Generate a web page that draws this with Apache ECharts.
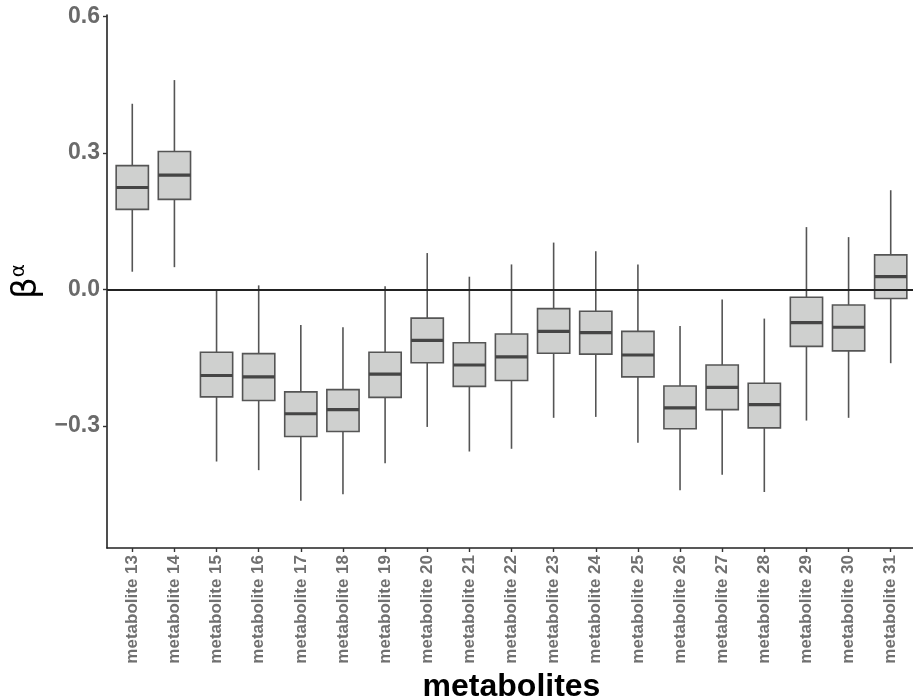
<!DOCTYPE html>
<html>
<head>
<meta charset="utf-8">
<script src="https://cdn.jsdelivr.net/npm/echarts@6/dist/echarts.min.js"></script>
<style>
  html, body { margin: 0; padding: 0; background: #fff; }
  #chart { width: 913px; height: 699px; }
</style>
</head>
<body>
<div id="chart"></div>
<script>
// metabolite ids along the x axis
var categories = ['13', '14', '15', '16', '17', '18', '19', '20', '21', '22',
                  '23', '24', '25', '26', '27', '28', '29', '30', '31'];

// box statistics
var lowWhisker = [0.039, 0.049, -0.378, -0.397, -0.464, -0.450, -0.382, -0.302, -0.356, -0.350,
                  -0.282, -0.280, -0.337, -0.441, -0.407, -0.445, -0.288, -0.282, -0.162];
var q1 = [0.176, 0.198, -0.236, -0.244, -0.323, -0.312, -0.237, -0.161, -0.213, -0.200,
          -0.140, -0.142, -0.192, -0.306, -0.264, -0.304, -0.125, -0.135, -0.020];
var median = [0.224, 0.251, -0.189, -0.192, -0.273, -0.264, -0.186, -0.112, -0.166, -0.148,
              -0.092, -0.095, -0.144, -0.260, -0.215, -0.253, -0.073, -0.083, 0.028];
var q3 = [0.272, 0.303, -0.138, -0.141, -0.225, -0.220, -0.138, -0.063, -0.117, -0.098,
          -0.042, -0.048, -0.092, -0.212, -0.166, -0.206, -0.017, -0.034, 0.076];
var highWhisker = [0.408, 0.460, -0.003, 0.009, -0.078, -0.083, 0.007, 0.080, 0.028, 0.055,
                   0.103, 0.084, 0.055, -0.080, -0.022, -0.064, 0.137, 0.115, 0.218];

var yTicks = [-0.3, 0.0, 0.3, 0.6];

var boxData = [];
var xTicks = [];
for (var i = 0; i < categories.length; i++) {
    boxData.push([i, lowWhisker[i], q1[i], median[i], q3[i], highWhisker[i]]);
    xTicks.push(i);
}

var boxLine = '#555555';
var boxFill = '#cfd0cf';

function renderBox(params, api) {
    var x = api.value(0);
    var pLow = api.coord([x, api.value(1)]);
    var pQ1 = api.coord([x, api.value(2)]);
    var pMed = api.coord([x, api.value(3)]);
    var pQ3 = api.coord([x, api.value(4)]);
    var pHigh = api.coord([x, api.value(5)]);
    var w = api.size([1, 0])[0] * 0.765;
    var cx = pMed[0];
    return {
        type: 'group',
        children: [
            {
                type: 'line',
                shape: { x1: cx, y1: pHigh[1], x2: cx, y2: pLow[1] },
                style: { stroke: boxLine, lineWidth: 1.6 }
            },
            {
                type: 'rect',
                shape: { x: cx - w / 2, y: pQ3[1], width: w, height: pQ1[1] - pQ3[1] },
                style: { fill: boxFill, stroke: boxLine, lineWidth: 1.6 }
            },
            {
                type: 'line',
                shape: { x1: cx - w / 2, y1: pMed[1], x2: cx + w / 2, y2: pMed[1] },
                style: { stroke: '#454545', lineWidth: 3.2 }
            }
        ]
    };
}

var chart = echarts.init(document.getElementById('chart'));

var option = {
    animation: false,
    backgroundColor: '#ffffff',
    grid: { left: 107, right: -3, top: 15, bottom: 151, containLabel: false, outerBoundsMode: 'none' },
    xAxis: {
        type: 'value',
        min: -0.6,
        max: 18.6,
        name: 'metabolites',
        nameLocation: 'middle',
        nameGap: 116,
        nameTextStyle: {
            fontFamily: 'Liberation Sans, Arial, sans-serif',
            fontWeight: 'bold', fontSize: 32, color: '#000'
        },
        axisLine: { onZero: false, lineStyle: { color: '#222', width: 1.6 } },
        axisTick: { customValues: xTicks, length: 4, lineStyle: { color: '#333', width: 1.4 } },
        axisLabel: {
            customValues: xTicks,
            rotate: 90,
            margin: 7,
            fontFamily: 'Liberation Sans, Arial, sans-serif',
            fontWeight: 'bold',
            fontSize: 17,
            color: '#707070',
            formatter: function (v) {
                return 'metabolite ' + categories[Math.round(v)];
            }
        },
        splitLine: { show: false }
    },
    yAxis: {
        type: 'value',
        min: -0.568,
        max: 0.603,
        name: '{b|β}{a|α}',
        nameLocation: 'middle',
        nameRotate: 90,
        nameGap: 60,
        nameTextStyle: {
            rich: {
                b: { fontSize: 34, color: '#000', fontFamily: 'DejaVu Sans, sans-serif' },
                a: { fontSize: 20, color: '#000', fontFamily: 'DejaVu Sans, sans-serif',
                     verticalAlign: 'top', padding: [0, 0, 16, 0] }
            }
        },
        axisLine: { onZero: false, lineStyle: { color: '#222', width: 1.6 } },
        axisTick: { customValues: yTicks, length: 4, lineStyle: { color: '#333', width: 1.4 } },
        axisLabel: {
            customValues: yTicks,
            margin: 7,
            fontFamily: 'Liberation Sans, Arial, sans-serif',
            fontWeight: 'bold',
            fontSize: 23,
            color: '#6a6a6a',
            formatter: function (v) {
                var s = Math.abs(v).toFixed(1);
                return v < 0 ? '\u2212' + s : s;
            }
        },
        splitLine: { show: false }
    },
    series: [
        {
            type: 'custom',
            renderItem: renderBox,
            encode: { x: 0, y: [1, 2, 3, 4, 5] },
            data: boxData,
            z: 3,
            markLine: {
                silent: true,
                symbol: 'none',
                label: { show: false },
                lineStyle: { color: '#222', width: 2, type: 'solid' },
                data: [{ yAxis: 0 }]
            }
        }
    ]
};

chart.setOption(option);
</script>
</body>
</html>
